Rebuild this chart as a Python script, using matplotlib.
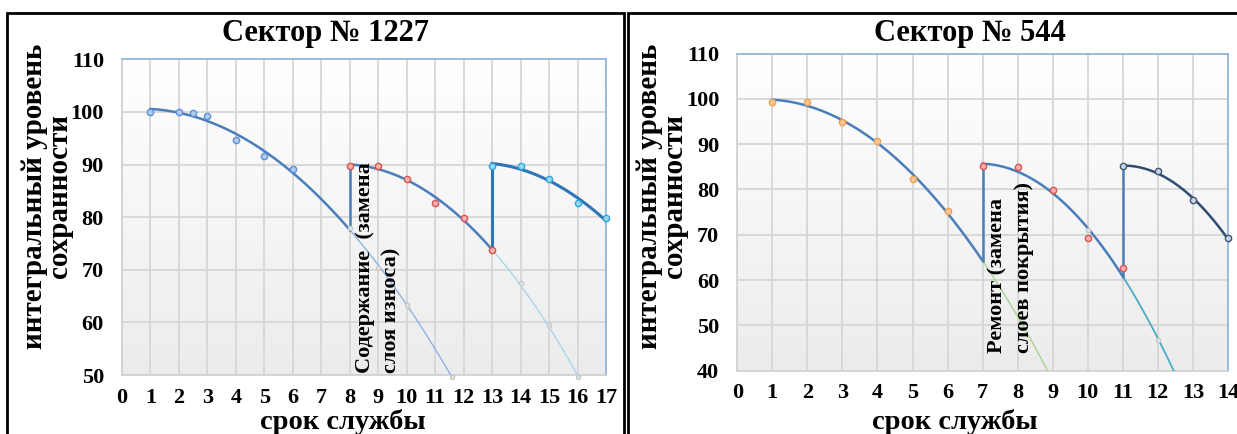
import matplotlib
matplotlib.use("Agg")
import matplotlib.pyplot as plt
import numpy as np
from matplotlib.colors import LinearSegmentedColormap
from matplotlib.patches import Rectangle

plt.rcParams['font.family'] = ['Liberation Serif', 'DejaVu Serif']
plt.rcParams['font.weight'] = 'bold'

# ---- Сектор № 1227 ----
l_seg1_x = [1, 2, 2.5, 3, 4, 5, 6]
l_seg1_y = [100, 100, 99.8, 99.2, 94.7, 91.7, 89.2]
l_fc1_x = [8, 9, 10, 11.6]
l_fc1_y = [78, 70.4, 63.3, 49.6]
l_seg2_x = [8, 9, 10, 11, 12, 13]
l_seg2_y = [89.8, 89.7, 87.3, 82.6, 79.8, 73.7]
l_fc2_x = [14, 15, 16]
l_fc2_y = [67.4, 59.5, 49.6]
l_seg3_x = [13, 14, 15, 16, 17]
l_seg3_y = [89.8, 89.8, 87.2, 82.6, 79.8]

# ---- Сектор № 544 ----
r_seg1_x = [1, 2, 3, 4, 5, 6]
r_seg1_y = [99.3, 99.4, 94.9, 90.7, 82.3, 75.3]
r_seg2_x = [7, 8, 9, 10, 11]
r_seg2_y = [85.1, 85.0, 79.8, 69.2, 62.7]
r_fc2_x = [10, 12]
r_fc2_y = [71.1, 46.7]
r_seg3_x = [11, 12, 13, 14]
r_seg3_y = [85.1, 84.0, 77.6, 69.2]

fig = plt.figure(figsize=(12.37, 4.34), dpi=100)
bg = LinearSegmentedColormap.from_list('bg', ['#ffffff', '#ececec'])


def trend(xs, ys):
    return np.poly1d(np.polyfit(xs, ys, 2))


def setup(ax, xmax, ymin):
    ax.set_xlim(0, xmax)
    ax.set_ylim(ymin, 110)
    ax.imshow(np.linspace(0, 1, 100).reshape(-1, 1), extent=[0, 1, 0, 1],
              transform=ax.transAxes, aspect='auto', cmap=bg, zorder=0)
    ax.set_xticks(range(0, xmax + 1))
    ax.set_yticks(range(ymin, 111, 10))
    ax.grid(True, color='#d6d6d6', lw=1.3, zorder=1)
    ax.set_axisbelow(True)
    ax.tick_params(length=0, labelsize=16, pad=13)
    ax.tick_params(axis='x', pad=9)
    for s in ['top', 'right']:
        ax.spines[s].set_color('#8fb1dc')
    for s in ['left', 'bottom']:
        ax.spines[s].set_color('#d0d0d0')
    for s in ax.spines.values():
        s.set_linewidth(1.2)


def pts(ax, xs, ys, fc, ec, ms=4.5):
    ax.plot(xs, ys, 'o', ms=ms, mfc=fc, mec=ec, mew=1, zorder=5, clip_on=False)


# left chart
ax1 = fig.add_axes([0.0986, 0.1359, 0.3913, 0.7275])
setup(ax1, 17, 50)
t1 = trend(l_seg1_x + l_fc1_x, l_seg1_y + l_fc1_y)
t2 = trend(l_seg2_x + l_fc2_x, l_seg2_y + l_fc2_y)
t3 = trend(l_seg3_x, l_seg3_y)
xx = np.linspace(1, 8, 100)
ax1.plot(xx, t1(xx), color='#4a7ebb', lw=1.8, zorder=3)
xx = np.linspace(8, l_fc1_x[-1], 100)
ax1.plot(xx, t1(xx), color='#8db3e2', lw=1.0, zorder=3)
xx = np.linspace(8, 13, 100)
ax1.plot(xx, t2(xx), color='#4a7ebb', lw=1.8, zorder=3)
xx = np.linspace(13, l_fc2_x[-1], 100)
ax1.plot(xx, t2(xx), color='#a6d8ea', lw=1.0, zorder=3)
xx = np.linspace(13, 17, 100)
ax1.plot(xx, t3(xx), color='#2e75b6', lw=2.2, zorder=3)
ax1.plot([8, 8], [t1(8), t2(8)], color='#4a7ebb', lw=1.8, zorder=3)
ax1.plot([13, 13], [t2(13), t3(13)], color='#2e75b6', lw=2.2, zorder=3)
pts(ax1, l_fc1_x, l_fc1_y, '#e8e8e8', '#c8c8c8', 3)
pts(ax1, l_fc2_x, l_fc2_y, '#e8e8e8', '#c8c8c8', 3)
pts(ax1, l_seg1_x, l_seg1_y, '#b4cdef', '#5b8fd6')
pts(ax1, l_seg2_x, l_seg2_y, '#f6b0b0', '#d9534f')
pts(ax1, l_seg3_x, l_seg3_y, '#9ad8f2', '#31a5d8')
ax1.text(8.2, 50.3, 'Содержание  (замена\nслоя износа)', rotation=90,
         ha='left', va='bottom', fontsize=16, linespacing=1.4, zorder=6)

# right chart
ax2 = fig.add_axes([0.5960, 0.1459, 0.3967, 0.7308])
setup(ax2, 14, 40)
r1 = trend(r_seg1_x, r_seg1_y)
r2 = trend(r_seg2_x + r_fc2_x, r_seg2_y + r_fc2_y)
r3 = trend(r_seg3_x, r_seg3_y)
xx = np.linspace(1, 7, 100)
ax2.plot(xx, r1(xx), color='#4a7ebb', lw=1.8, zorder=3)
xx = np.linspace(7, 10, 100)
ax2.plot(xx, r1(xx), color='#a9d18e', lw=1.0, zorder=3)
xx = np.linspace(7, 11, 100)
ax2.plot(xx, r2(xx), color='#4a7ebb', lw=1.8, zorder=3)
xx = np.linspace(11, 14, 100)
ax2.plot(xx, r2(xx), color='#4bacc6', lw=1.3, zorder=3)
xx = np.linspace(11, 14, 100)
ax2.plot(xx, r3(xx), color='#2f4d72', lw=1.8, zorder=3)
ax2.plot([7, 7], [r1(7), r2(7)], color='#4a7ebb', lw=1.8, zorder=3)
ax2.plot([11, 11], [r2(11), r3(11)], color='#4a7ebb', lw=1.8, zorder=3)
pts(ax2, r_fc2_x, r_fc2_y, '#e8e8e8', '#c8c8c8', 3)
pts(ax2, r_seg1_x, r_seg1_y, '#f9c79a', '#f0a050')
pts(ax2, r_seg2_x, r_seg2_y, '#f6b0b0', '#d9534f')
pts(ax2, r_seg3_x, r_seg3_y, '#c5d5ea', '#44546a')
ax2.text(7.15, 44.0, 'Ремонт (замена\nслоев покрытия)', rotation=90,
         ha='left', va='bottom', fontsize=16, linespacing=1.4, zorder=6)

# titles and axis labels
fig.text(325 / 1237, 1 - 33 / 434, 'Сектор № 1227', ha='center', va='center', fontsize=22)
fig.text(970 / 1237, 1 - 33 / 434, 'Сектор № 544', ha='center', va='center', fontsize=22)
for cx, lx in [(343, 47), (955, 662)]:
    fig.text(cx / 1237, 1 - 429 / 434, 'срок службы', ha='center', va='baseline', fontsize=20.5)
    fig.text(lx / 1237, 1 - 196 / 434, 'интегральный уровень\nсохранности', rotation=90,
             ha='center', va='center', fontsize=21, linespacing=0.95)

# chart frames
fig.patches.append(Rectangle((7 / 1237, -0.2), 617 / 1237, 1.2 - 13 / 434, fill=False,
                             lw=2, ec='black', transform=fig.transFigure))
fig.patches.append(Rectangle((628 / 1237, -0.2), 0.6, 1.2 - 13 / 434, fill=False,
                             lw=2, ec='black', transform=fig.transFigure))

fig.savefig('out.png', dpi=100)
